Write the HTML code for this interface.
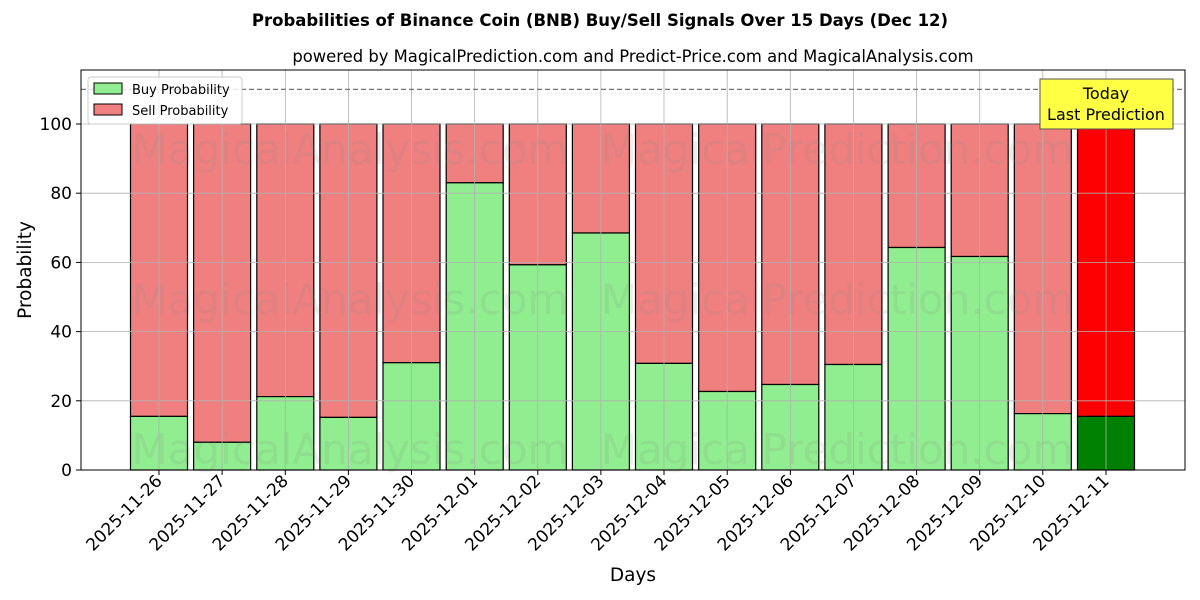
<!DOCTYPE html>
<html><head><meta charset="utf-8"><style>body{margin:0;background:#fff}svg{display:block;font-family:"DejaVu Sans","Liberation Sans",sans-serif}</style></head>
<body>
<svg width="1200" height="600" viewBox="0 0 1200 600" xmlns="http://www.w3.org/2000/svg">
<rect width="1200" height="600" fill="#fff"/>
<text x="600" y="26" text-anchor="middle" font-size="16.5" font-weight="bold">Probabilities of Binance Coin (BNB) Buy/Sell Signals Over 15 Days (Dec 12)</text>
<text x="633" y="62" text-anchor="middle" font-size="16.4">powered by MagicalPrediction.com and Predict-Price.com and MagicalAnalysis.com</text>
<g stroke="#000" stroke-width="1.2">
<rect x="130.5" y="124" width="57" height="292.4" fill="#f08080"/><rect x="130.5" y="416.4" width="57" height="53.6" fill="#90ee90"/>
<rect x="193.6" y="124" width="57" height="318.3" fill="#f08080"/><rect x="193.6" y="442.3" width="57" height="27.7" fill="#90ee90"/>
<rect x="256.8" y="124" width="57" height="272.6" fill="#f08080"/><rect x="256.8" y="396.6" width="57" height="73.4" fill="#90ee90"/>
<rect x="319.9" y="124" width="57" height="293.4" fill="#f08080"/><rect x="319.9" y="417.4" width="57" height="52.6" fill="#90ee90"/>
<rect x="383" y="124" width="57" height="238.7" fill="#f08080"/><rect x="383" y="362.7" width="57" height="107.3" fill="#90ee90"/>
<rect x="446.2" y="124" width="57" height="58.8" fill="#f08080"/><rect x="446.2" y="182.8" width="57" height="287.2" fill="#90ee90"/>
<rect x="509.3" y="124" width="57" height="140.8" fill="#f08080"/><rect x="509.3" y="264.8" width="57" height="205.2" fill="#90ee90"/>
<rect x="572.4" y="124" width="57" height="109" fill="#f08080"/><rect x="572.4" y="233" width="57" height="237" fill="#90ee90"/>
<rect x="635.5" y="124" width="57" height="239.4" fill="#f08080"/><rect x="635.5" y="363.4" width="57" height="106.6" fill="#90ee90"/>
<rect x="698.7" y="124" width="57" height="267.5" fill="#f08080"/><rect x="698.7" y="391.5" width="57" height="78.5" fill="#90ee90"/>
<rect x="761.8" y="124" width="57" height="260.5" fill="#f08080"/><rect x="761.8" y="384.5" width="57" height="85.5" fill="#90ee90"/>
<rect x="824.9" y="124" width="57" height="240.5" fill="#f08080"/><rect x="824.9" y="364.5" width="57" height="105.5" fill="#90ee90"/>
<rect x="888.1" y="124" width="57" height="123.5" fill="#f08080"/><rect x="888.1" y="247.5" width="57" height="222.5" fill="#90ee90"/>
<rect x="951.2" y="124" width="57" height="132.5" fill="#f08080"/><rect x="951.2" y="256.5" width="57" height="213.5" fill="#90ee90"/>
<rect x="1014.3" y="124" width="57" height="289.6" fill="#f08080"/><rect x="1014.3" y="413.6" width="57" height="56.4" fill="#90ee90"/>
<rect x="1077.5" y="124" width="57" height="292.4" fill="#ff0000"/><rect x="1077.5" y="416.4" width="57" height="53.6" fill="#008000"/>
</g>
<g font-size="42" fill="#888" fill-opacity="0.15" text-anchor="middle">
<text x="350" y="164">MagicalAnalysis.com</text><text x="837" y="164">MagicalPrediction.com</text>
<text x="350" y="314">MagicalAnalysis.com</text><text x="837" y="314">MagicalPrediction.com</text>
<text x="350" y="464">MagicalAnalysis.com</text><text x="837" y="464">MagicalPrediction.com</text>
</g>
<g stroke="#b0b0b0" stroke-width="0.8">
<line x1="159" y1="70" x2="159" y2="470"/><line x1="222.1" y1="70" x2="222.1" y2="470"/><line x1="285.3" y1="70" x2="285.3" y2="470"/><line x1="348.4" y1="70" x2="348.4" y2="470"/><line x1="411.5" y1="70" x2="411.5" y2="470"/><line x1="474.7" y1="70" x2="474.7" y2="470"/><line x1="537.8" y1="70" x2="537.8" y2="470"/><line x1="600.9" y1="70" x2="600.9" y2="470"/><line x1="664" y1="70" x2="664" y2="470"/><line x1="727.2" y1="70" x2="727.2" y2="470"/><line x1="790.3" y1="70" x2="790.3" y2="470"/><line x1="853.4" y1="70" x2="853.4" y2="470"/><line x1="916.6" y1="70" x2="916.6" y2="470"/><line x1="979.7" y1="70" x2="979.7" y2="470"/><line x1="1042.8" y1="70" x2="1042.8" y2="470"/><line x1="1106" y1="70" x2="1106" y2="470"/>
<line x1="81" y1="400.8" x2="1185" y2="400.8"/><line x1="81" y1="331.6" x2="1185" y2="331.6"/><line x1="81" y1="262.4" x2="1185" y2="262.4"/><line x1="81" y1="193.2" x2="1185" y2="193.2"/><line x1="81" y1="124" x2="1185" y2="124"/>
</g>
<line x1="81" y1="89.4" x2="1185" y2="89.4" stroke="#777" stroke-width="1.2" stroke-dasharray="5,3"/>
<rect x="81" y="70" width="1104" height="400" fill="none" stroke="#000" stroke-width="1"/>
<g stroke="#000" stroke-width="1">
<line x1="76" y1="470" x2="81" y2="470"/><line x1="76" y1="400.8" x2="81" y2="400.8"/><line x1="76" y1="331.6" x2="81" y2="331.6"/><line x1="76" y1="262.4" x2="81" y2="262.4"/><line x1="76" y1="193.2" x2="81" y2="193.2"/><line x1="76" y1="124" x2="81" y2="124"/>
<line x1="159" y1="470" x2="159" y2="475"/><line x1="222.1" y1="470" x2="222.1" y2="475"/><line x1="285.3" y1="470" x2="285.3" y2="475"/><line x1="348.4" y1="470" x2="348.4" y2="475"/><line x1="411.5" y1="470" x2="411.5" y2="475"/><line x1="474.7" y1="470" x2="474.7" y2="475"/><line x1="537.8" y1="470" x2="537.8" y2="475"/><line x1="600.9" y1="470" x2="600.9" y2="475"/><line x1="664" y1="470" x2="664" y2="475"/><line x1="727.2" y1="470" x2="727.2" y2="475"/><line x1="790.3" y1="470" x2="790.3" y2="475"/><line x1="853.4" y1="470" x2="853.4" y2="475"/><line x1="916.6" y1="470" x2="916.6" y2="475"/><line x1="979.7" y1="470" x2="979.7" y2="475"/><line x1="1042.8" y1="470" x2="1042.8" y2="475"/><line x1="1106" y1="470" x2="1106" y2="475"/>
</g>
<g font-size="17" text-anchor="end">
<text x="72" y="476">0</text><text x="72" y="406.8">20</text><text x="72" y="337.6">40</text><text x="72" y="268.4">60</text><text x="72" y="199.2">80</text><text x="72" y="130">100</text>
</g>
<g font-size="17" text-anchor="end">
<text transform="translate(163,482) rotate(-45)">2025-11-26</text>
<text transform="translate(226.1,482) rotate(-45)">2025-11-27</text>
<text transform="translate(289.3,482) rotate(-45)">2025-11-28</text>
<text transform="translate(352.4,482) rotate(-45)">2025-11-29</text>
<text transform="translate(415.5,482) rotate(-45)">2025-11-30</text>
<text transform="translate(478.7,482) rotate(-45)">2025-12-01</text>
<text transform="translate(541.8,482) rotate(-45)">2025-12-02</text>
<text transform="translate(604.9,482) rotate(-45)">2025-12-03</text>
<text transform="translate(668,482) rotate(-45)">2025-12-04</text>
<text transform="translate(731.2,482) rotate(-45)">2025-12-05</text>
<text transform="translate(794.3,482) rotate(-45)">2025-12-06</text>
<text transform="translate(857.4,482) rotate(-45)">2025-12-07</text>
<text transform="translate(920.6,482) rotate(-45)">2025-12-08</text>
<text transform="translate(983.7,482) rotate(-45)">2025-12-09</text>
<text transform="translate(1046.8,482) rotate(-45)">2025-12-10</text>
<text transform="translate(1110,482) rotate(-45)">2025-12-11</text>
</g>
<rect x="88" y="77" width="154" height="47" rx="3" fill="#fff" fill-opacity="0.8" stroke="#ccc"/>
<rect x="94" y="83" width="28" height="11" fill="#90ee90" stroke="#000"/><text x="132" y="94" font-size="13">Buy Probability</text>
<rect x="94" y="104" width="28" height="11" fill="#f08080" stroke="#000"/><text x="132" y="115" font-size="13">Sell Probability</text>
<rect x="1040" y="79" width="133" height="50" fill="#ffff44" stroke="#555"/>
<text x="1106" y="99" text-anchor="middle" font-size="16">Today</text><text x="1106" y="120" text-anchor="middle" font-size="16">Last Prediction</text>
<text x="633" y="581" text-anchor="middle" font-size="18.5">Days</text>
<text transform="translate(31,270) rotate(-90)" text-anchor="middle" font-size="18.5">Probability</text>
</svg>
</body></html>
